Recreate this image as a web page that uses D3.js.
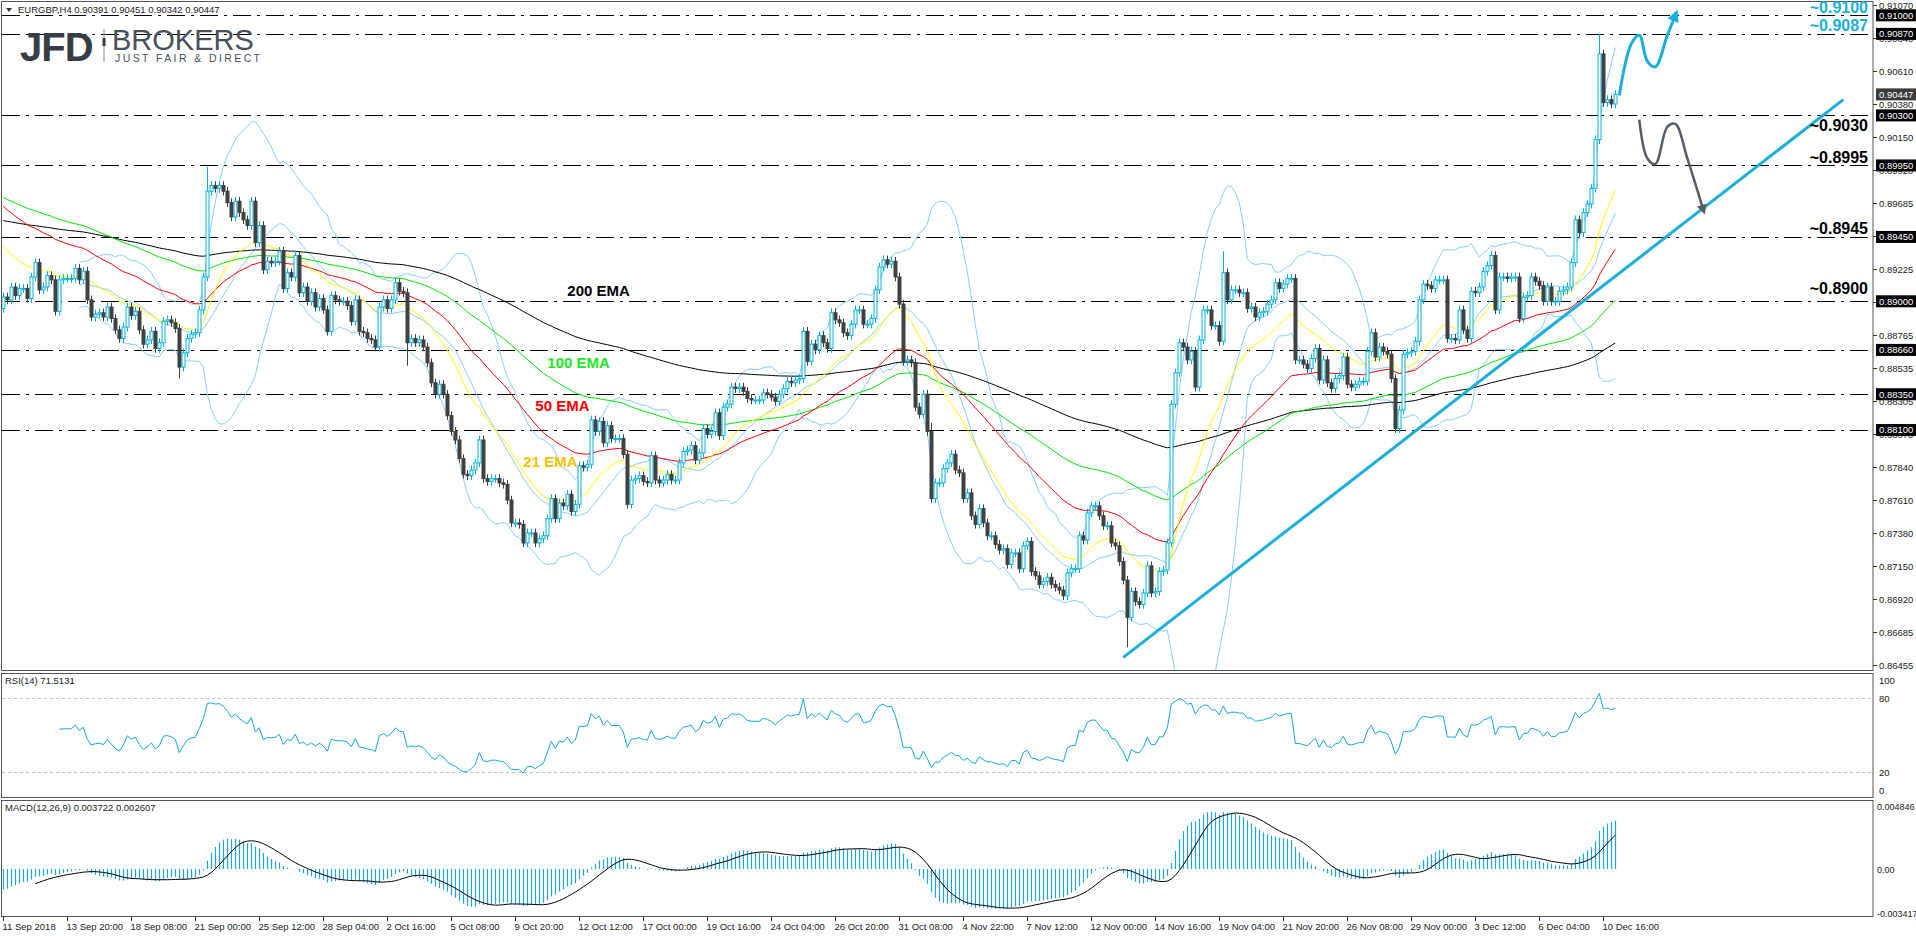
<!DOCTYPE html>
<html>
<head>
<meta charset="utf-8">
<script src="https://cdn.jsdelivr.net/npm/d3@7"></script>
<style>
  body { margin: 0; background: #fff; }
  svg { display: block; }
  text { font-family: "Liberation Sans", Arial, sans-serif; }
</style>
</head>
<body>
<div id="chart"></div>
<script>
// EURGBP H4 closes (bar 0 = 11 Sep 2018)
var closes = [
  0.8903,0.8901,0.8910,0.8904,0.8909,0.8909,0.8902,0.8917,0.8927,0.8908,
  0.8910,0.8918,0.8915,0.8893,0.8915,0.8916,0.8916,0.8916,0.8923,0.8915,
  0.8921,0.8901,0.8889,0.8891,0.8892,0.8889,0.8896,0.8888,0.8880,0.8874,
  0.8882,0.8896,0.8890,0.8893,0.8880,0.8870,0.8873,0.8879,0.8867,0.8871,
  0.8886,0.8887,0.8885,0.8881,0.8854,0.8864,0.8874,0.8877,0.8878,0.8894,
  0.8917,0.8977,0.8981,0.8979,0.8981,0.8977,0.8969,0.8959,0.8970,0.8962,
  0.8957,0.8953,0.8970,0.8941,0.8953,0.8922,0.8928,0.8927,0.8928,0.8935,
  0.8909,0.8920,0.8917,0.8932,0.8906,0.8910,0.8900,0.8906,0.8896,0.8902,
  0.8894,0.8879,0.8904,0.8901,0.8900,0.8900,0.8897,0.8886,0.8901,0.8879,
  0.8878,0.8874,0.8873,0.8868,0.8896,0.8901,0.8895,0.8901,0.8913,0.8907,
  0.8906,0.8871,0.8874,0.8871,0.8873,0.8868,0.8857,0.8843,0.8835,0.8842,
  0.8835,0.8820,0.8809,0.8803,0.8790,0.8779,0.8778,0.8782,0.8787,0.8803,
  0.8776,0.8774,0.8776,0.8776,0.8773,0.8772,0.8761,0.8745,0.8745,0.8744,
  0.8731,0.8738,0.8738,0.8731,0.8734,0.8736,0.8748,0.8762,0.8748,0.8759,
  0.8757,0.8765,0.8753,0.8758,0.8785,0.8784,0.8786,0.8817,0.8809,0.8816,
  0.8801,0.8813,0.8804,0.8804,0.8804,0.8793,0.8758,0.8775,0.8776,0.8778,
  0.8774,0.8773,0.8792,0.8775,0.8773,0.8775,0.8779,0.8775,0.8775,0.8787,
  0.8795,0.8796,0.8799,0.8789,0.8794,0.8811,0.8807,0.8809,0.8822,0.8806,
  0.8826,0.8828,0.8840,0.8839,0.8840,0.8837,0.8832,0.8831,0.8831,0.8831,
  0.8836,0.8835,0.8833,0.8830,0.8835,0.8839,0.8844,0.8843,0.8845,0.8846,
  0.8879,0.8858,0.8870,0.8866,0.8876,0.8871,0.8867,0.8892,0.8887,0.8885,
  0.8878,0.8876,0.8884,0.8894,0.8894,0.8884,0.8884,0.8888,0.8908,0.8924,
  0.8929,0.8926,0.8928,0.8917,0.8898,0.8858,0.8859,0.8857,0.8826,0.8821,
  0.8835,0.8809,0.8762,0.8773,0.8773,0.8783,0.8787,0.8793,0.8782,0.8780,
  0.8762,0.8766,0.8750,0.8744,0.8755,0.8745,0.8736,0.8736,0.8730,0.8726,
  0.8727,0.8716,0.8724,0.8724,0.8713,0.8729,0.8732,0.8711,0.8708,0.8702,
  0.8704,0.8707,0.8702,0.8700,0.8698,0.8694,0.8710,0.8713,0.8713,0.8736,
  0.8733,0.8752,0.8757,0.8757,0.8750,0.8743,0.8743,0.8731,0.8729,0.8718,
  0.8705,0.8679,0.8697,0.8690,0.8688,0.8696,0.8715,0.8696,0.8697,0.8711,
  0.8712,0.8731,0.8828,0.8850,0.8871,0.8868,0.8859,0.8865,0.8840,0.8873,
  0.8894,0.8894,0.8883,0.8883,0.8872,0.8920,0.8901,0.8908,0.8908,0.8906,
  0.8906,0.8895,0.8896,0.8889,0.8892,0.8893,0.8898,0.8901,0.8913,0.8909,
  0.8912,0.8916,0.8916,0.8859,0.8859,0.8856,0.8853,0.8860,0.8867,0.8845,
  0.8859,0.8843,0.8839,0.8846,0.8848,0.8861,0.8842,0.8840,0.8842,0.8844,
  0.8844,0.8865,0.8878,0.8861,0.8868,0.8865,0.8863,0.8846,0.8811,0.8824,
  0.8863,0.8864,0.8865,0.8872,0.8901,0.8912,0.8911,0.8909,0.8915,0.8915,
  0.8915,0.8874,0.8874,0.8873,0.8894,0.8880,0.8874,0.8907,0.8906,0.8910,
  0.8921,0.8925,0.8932,0.8894,0.8917,0.8917,0.8916,0.8917,0.8917,0.8888,
  0.8903,0.8904,0.8917,0.8914,0.8911,0.8900,0.8910,0.8900,0.8900,0.8907,
  0.8908,0.8910,0.8927,0.8957,0.8948,0.8962,0.8968,0.8979,0.9013,0.9073,
  0.9039,0.9041,0.9038,0.90447
];
var firstOpen = 0.8895;
// a few long wicks [bar, price]
var spikeHighs = [[51, 0.8994], [399, 0.9087], [305, 0.8935], [232, 0.8815]];
var spikeLows = [[44, 0.8846], [281, 0.8658], [348, 0.8808], [101, 0.8855]];

// EMA starting levels at bar 0 (from the chart's left edge)
var emaSeeds = { 21: 0.8942, 50: 0.8969, 100: 0.8974, 200: 0.8957 };
var emaColors = { 21: "#ffff00", 50: "#ff0000", 100: "#00e600", 200: "#000000" };

// horizontal levels
var levels = [0.9100, 0.9087, 0.9030, 0.8995, 0.8945, 0.8900, 0.8866, 0.8835, 0.8810];
var levelLabels = ["0.91000","0.90870","0.90300","0.89950","0.89450","0.89000","0.88660","0.88350","0.88100"];
var priceTicks = [0.91070,0.90840,0.90610,0.90380,0.90150,0.89920,0.89685,0.89455,0.89225,0.88995,
  0.88765,0.88535,0.88305,0.88070,0.87840,0.87610,0.87380,0.87150,0.86920,0.86685,0.86455];
var annotations = [
  { text: "~0.9100", price: 0.9100, color: "#1aaedb", dy: -2 },
  { text: "~0.9087", price: 0.9087, color: "#1aaedb", dy: -3 },
  { text: "~0.9030", price: 0.9030, color: "#000", dy: 16 },
  { text: "~0.8995", price: 0.8995, color: "#000", dy: -2 },
  { text: "~0.8945", price: 0.8945, color: "#000", dy: -3 },
  { text: "~0.8900", price: 0.8900, color: "#000", dy: -7 }
];
var emaLabels = [
  { text: "200 EMA", bar: 141, price: 0.8904, color: "#000" },
  { text: "100 EMA", bar: 136, price: 0.8853, color: "#1ee61e" },
  { text: "50 EMA", bar: 133, price: 0.8823, color: "#ff0000" },
  { text: "21 EMA", bar: 130, price: 0.8784, color: "#f2c200" }
];
var dateLabels = ["11 Sep 2018","13 Sep 20:00","18 Sep 08:00","21 Sep 00:00","25 Sep 12:00","28 Sep 04:00",
  "2 Oct 16:00","5 Oct 08:00","9 Oct 20:00","12 Oct 12:00","17 Oct 00:00","19 Oct 16:00","24 Oct 04:00",
  "26 Oct 20:00","31 Oct 08:00","4 Nov 22:00","7 Nov 12:00","12 Nov 00:00","14 Nov 16:00","19 Nov 04:00",
  "21 Nov 20:00","26 Nov 08:00","29 Nov 00:00","3 Dec 12:00","6 Dec 04:00","10 Dec 16:00"];
// trend line and scenario arrows, [bar, price]
var trendLine = [[280, 0.8651], [460, 0.9041]];
var upPath = [[404, 0.9044], [407, 0.9080], [409, 0.9086], [411, 0.9068], [413, 0.9064], [416, 0.9086], [418, 0.9100]];
var downPath = [[409, 0.9027], [411, 0.9000], [413, 0.8996], [416, 0.9022], [418, 0.9024], [421, 0.9000], [425, 0.8964]];
var rsiLevels = [80, 20];
var rsiTicks = [100, 80, 20, 0];
var macdTicks = [0.004846, 0, -0.003417];
var macdTickLabels = ["0.004846", "0.00", "-0.003417"];

var W = 1916, H = 936, axisX = 1873;
var svg = d3.select("#chart").append("svg").attr("width", W).attr("height", H);

var x = d3.scaleLinear().domain([0, 1]).range([3.3, 7.3]);
var y = d3.scaleLinear().domain([0.86455, 0.91070]).range([665.2, 5.3]);
var yRsi = d3.scaleLinear().domain([0, 100]).range([797, 673]);
var yMacd = d3.scaleLinear().domain([-0.003417, 0.004846]).range([913.4, 806]);

// build candles
var bars = closes.map(function(c, i) {
  var o = i === 0 ? firstOpen : closes[i - 1];
  return { i: i, o: o, c: c, h: Math.max(o, c) + 0.0003, l: Math.min(o, c) - 0.0003 };
});
spikeHighs.forEach(function(s) { bars[s[0]].h = s[1]; });
spikeLows.forEach(function(s) { bars[s[0]].l = s[1]; });

function ema(period, seed) {
  var k = 2 / (period + 1), v = seed;
  return closes.map(function(c) { v = c * k + v * (1 - k); return v; });
}

// frames
svg.append("rect").attr("x", 1.5).attr("y", 1.5).attr("width", axisX - 1.5).attr("height", 669)
  .attr("fill", "none").attr("stroke", "#555");
svg.append("rect").attr("x", 1.5).attr("y", 673.5).attr("width", axisX - 1.5).attr("height", 124)
  .attr("fill", "none").attr("stroke", "#555");
svg.append("rect").attr("x", 1.5).attr("y", 800.5).attr("width", axisX - 1.5).attr("height", 116)
  .attr("fill", "none").attr("stroke", "#555");

svg.append("clipPath").attr("id", "mainClip").append("rect")
  .attr("x", 2).attr("y", 2).attr("width", axisX - 2).attr("height", 668);
var main = svg.append("g").attr("clip-path", "url(#mainClip)");

// dash-dot levels
levels.forEach(function(p) {
  main.append("line").attr("x1", 2).attr("x2", axisX).attr("y1", Math.round(y(p)) + 0.5).attr("y2", Math.round(y(p)) + 0.5)
    .attr("stroke", "#000").attr("stroke-dasharray", "18,6,3,6");
});

// Bollinger bands (20, 2)
var bbUp = [], bbMid = [], bbLo = [];
for (var i = 19; i < closes.length; i++) {
  var win = closes.slice(i - 19, i + 1);
  var m = d3.mean(win), sd = Math.sqrt(d3.mean(win, function(v) { return (v - m) * (v - m); }));
  bbUp.push([i, m + 2 * sd]); bbMid.push([i, m]); bbLo.push([i, m - 2 * sd]);
}
var lineXY = d3.line().x(function(d) { return x(d[0]); }).y(function(d) { return y(d[1]); });
[bbUp, bbMid, bbLo].forEach(function(b) {
  main.append("path").attr("d", lineXY(b)).attr("fill", "none").attr("stroke", "#87cefa").attr("stroke-width", 1);
});

// EMAs
[200, 100, 50, 21].forEach(function(p) {
  var e = ema(p, emaSeeds[p]).map(function(v, i) { return [i, v]; });
  main.append("path").attr("d", lineXY(e)).attr("fill", "none").attr("stroke", emaColors[p]).attr("stroke-width", 1);
});

// candles
var cg = main.append("g");
cg.selectAll("line.wick").data(bars).enter().append("line")
  .attr("x1", function(d) { return Math.round(x(d.i)) + 0.5; })
  .attr("x2", function(d) { return Math.round(x(d.i)) + 0.5; })
  .attr("y1", function(d) { return y(d.h); }).attr("y2", function(d) { return y(d.l); })
  .attr("stroke", function(d) { return d.c >= d.o ? "#00b2e2" : "#404040"; });
cg.selectAll("rect.body").data(bars).enter().append("rect")
  .attr("x", function(d) { return Math.round(x(d.i)) - 1; })
  .attr("y", function(d) { return y(Math.max(d.o, d.c)); })
  .attr("width", 3)
  .attr("height", function(d) { return Math.max(1, Math.abs(y(d.o) - y(d.c))); })
  .attr("fill", function(d) { return d.c >= d.o ? "#fff" : "#404040"; })
  .attr("stroke", function(d) { return d.c >= d.o ? "#00b2e2" : "#404040"; })
  .attr("stroke-width", 1);

// trend line and scenario arrows
main.append("path").attr("d", lineXY(trendLine)).attr("stroke", "#1aaedb").attr("stroke-width", 3).attr("fill", "none");
var curve = d3.line().x(function(d) { return x(d[0]); }).y(function(d) { return y(d[1]); }).curve(d3.curveCatmullRom);
var defs = svg.append("defs");
[["upHead", "#1aaedb"], ["downHead", "#555c66"]].forEach(function(m) {
  defs.append("marker").attr("id", m[0]).attr("viewBox", "0 0 10 10").attr("refX", 5).attr("refY", 5)
    .attr("markerWidth", 4).attr("markerHeight", 4).attr("orient", "auto")
    .append("path").attr("d", "M0,0L10,5L0,10z").attr("fill", m[1]);
});
main.append("path").attr("d", curve(upPath)).attr("stroke", "#1aaedb").attr("stroke-width", 3)
  .attr("fill", "none").attr("marker-end", "url(#upHead)");
main.append("path").attr("d", curve(downPath)).attr("stroke", "#555c66").attr("stroke-width", 2.5)
  .attr("fill", "none").attr("marker-end", "url(#downHead)");

// EMA labels
emaLabels.forEach(function(l) {
  main.append("text").attr("x", x(l.bar)).attr("y", y(l.price)).text(l.text)
    .attr("fill", l.color).attr("font-size", 15).attr("font-weight", "bold");
});
// level annotations
annotations.forEach(function(a) {
  svg.append("text").attr("x", 1868).attr("y", y(a.price) + a.dy).attr("text-anchor", "end")
    .attr("font-size", 16).attr("font-weight", "bold").attr("fill", a.color).text(a.text);
});

// price axis
var ax = svg.append("g").attr("font-size", 9.5).attr("fill", "#222");
priceTicks.forEach(function(p) {
  var yy = Math.round(y(p)) + 0.5;
  ax.append("line").attr("x1", axisX).attr("x2", axisX + 4).attr("y1", yy).attr("y2", yy).attr("stroke", "#333");
  ax.append("text").attr("x", axisX + 6).attr("y", yy + 3.5).text(p.toFixed(5));
});
levels.forEach(function(p, k) {
  var yy = y(p);
  ax.append("rect").attr("x", axisX + 3).attr("y", yy - 6).attr("width", 41).attr("height", 12).attr("fill", "#000");
  ax.append("text").attr("x", axisX + 6).attr("y", yy + 3.5).attr("fill", "#fff").text(levelLabels[k]);
});
var last = closes[closes.length - 1];
ax.append("rect").attr("x", axisX + 3).attr("y", y(last) - 6).attr("width", 41).attr("height", 12).attr("fill", "#3c3c3c");
ax.append("text").attr("x", axisX + 6).attr("y", y(last) + 3.5).attr("fill", "#fff").text(last.toFixed(5));

// RSI(14)
var gains = 0, losses = 0, rsi = [];
for (var j = 1; j < closes.length; j++) {
  var ch = closes[j] - closes[j - 1];
  var g = Math.max(ch, 0), l = Math.max(-ch, 0);
  if (j <= 14) { gains += g / 14; losses += l / 14; }
  else { gains = (gains * 13 + g) / 14; losses = (losses * 13 + l) / 14; }
  if (j >= 14) rsi.push([j, 100 - 100 / (1 + gains / Math.max(losses, 1e-9))]);
}
rsiLevels.forEach(function(v) {
  svg.append("line").attr("x1", 2).attr("x2", axisX).attr("y1", Math.round(yRsi(v)) + 0.5).attr("y2", Math.round(yRsi(v)) + 0.5)
    .attr("stroke", "#c0c0c0").attr("stroke-dasharray", "3,3");
});
svg.append("path").attr("d", d3.line().x(function(d) { return x(d[0]); }).y(function(d) { return yRsi(d[1]); })(rsi))
  .attr("fill", "none").attr("stroke", "#12a9d6");
rsiTicks.forEach(function(v) {
  var ty = Math.min(Math.max(yRsi(v) + 4, 684), 794);
  svg.append("text").attr("x", axisX + 6).attr("y", ty).attr("font-size", 9.5).attr("fill", "#222").text(v);
});
svg.append("text").attr("x", 5).attr("y", 684).attr("font-size", 9.5).attr("fill", "#222")
  .text("RSI(14) " + rsi[rsi.length - 1][1].toFixed(4));

// MACD(12,26,9)
var k12 = 2 / 13, k26 = 2 / 27, a = 0.8905, b = 0.8922;
var macd = closes.map(function(c) {
  a = c * k12 + a * (1 - k12); b = c * k26 + b * (1 - k26); return a - b;
});
var signal = macd.map(function(v, i) { return i < 8 ? null : d3.mean(macd.slice(i - 8, i + 1)); });
svg.append("g").selectAll("line").data(macd).enter().append("line")
  .attr("x1", function(d, i) { return Math.round(x(i)) + 0.5; })
  .attr("x2", function(d, i) { return Math.round(x(i)) + 0.5; })
  .attr("y1", yMacd(0)).attr("y2", function(d) { return yMacd(d); })
  .attr("stroke", "#1ba6d6").attr("stroke-width", 1.2);
svg.append("path").attr("d", d3.line().defined(function(d) { return d !== null; })
    .x(function(d, i) { return x(i); }).y(function(d) { return yMacd(d); })(signal))
  .attr("fill", "none").attr("stroke", "#000");
macdTicks.forEach(function(v, k) {
  svg.append("text").attr("x", axisX + 4).attr("y", yMacd(v) + 4).attr("font-size", 9).attr("fill", "#222").text(macdTickLabels[k]);
});
svg.append("text").attr("x", 5).attr("y", 811).attr("font-size", 9.5).attr("fill", "#222")
  .text("MACD(12,26,9) " + macd[macd.length - 1].toFixed(6) + " " + signal[signal.length - 1].toFixed(6));

// time axis
dateLabels.forEach(function(t, k) {
  var xx = Math.round(x(k * 16)) + 0.5;
  svg.append("line").attr("x1", xx).attr("x2", xx).attr("y1", 916).attr("y2", 921).attr("stroke", "#333");
  svg.append("text").attr("x", xx - 1).attr("y", 930).attr("font-size", 9.5).attr("fill", "#222").text(t);
});

// header and logo
svg.append("path").attr("d", "M6,8L12,8L9,12z").attr("fill", "#333");
svg.append("text").attr("x", 18).attr("y", 13).attr("font-size", 9.5).attr("fill", "#222")
  .text("EURGBP,H4  0.90391 0.90451 0.90342 0.90447");
svg.append("text").attr("x", 20).attr("y", 61).attr("font-family", "Roboto").attr("font-weight", "bold")
  .attr("font-size", 40).attr("fill", "#373d45").attr("letter-spacing", -1).text("JFD");
svg.append("line").attr("x1", 104).attr("x2", 104).attr("y1", 29).attr("y2", 62).attr("stroke", "#888").attr("stroke-width", 1);
svg.append("rect").attr("x", 102.5).attr("y", 38).attr("width", 3).attr("height", 8).attr("fill", "#373d45");
svg.append("text").attr("x", 112).attr("y", 50).attr("font-family", "Liberation Serif").attr("font-size", 29)
  .attr("fill", "#4a5059").text("BROKERS");
svg.append("text").attr("x", 115).attr("y", 62).attr("font-family", "Liberation Serif").attr("font-size", 10.5)
  .attr("letter-spacing", 2.4).attr("fill", "#4a5059").text("JUST FAIR & DIRECT");
</script>
</body>
</html>
